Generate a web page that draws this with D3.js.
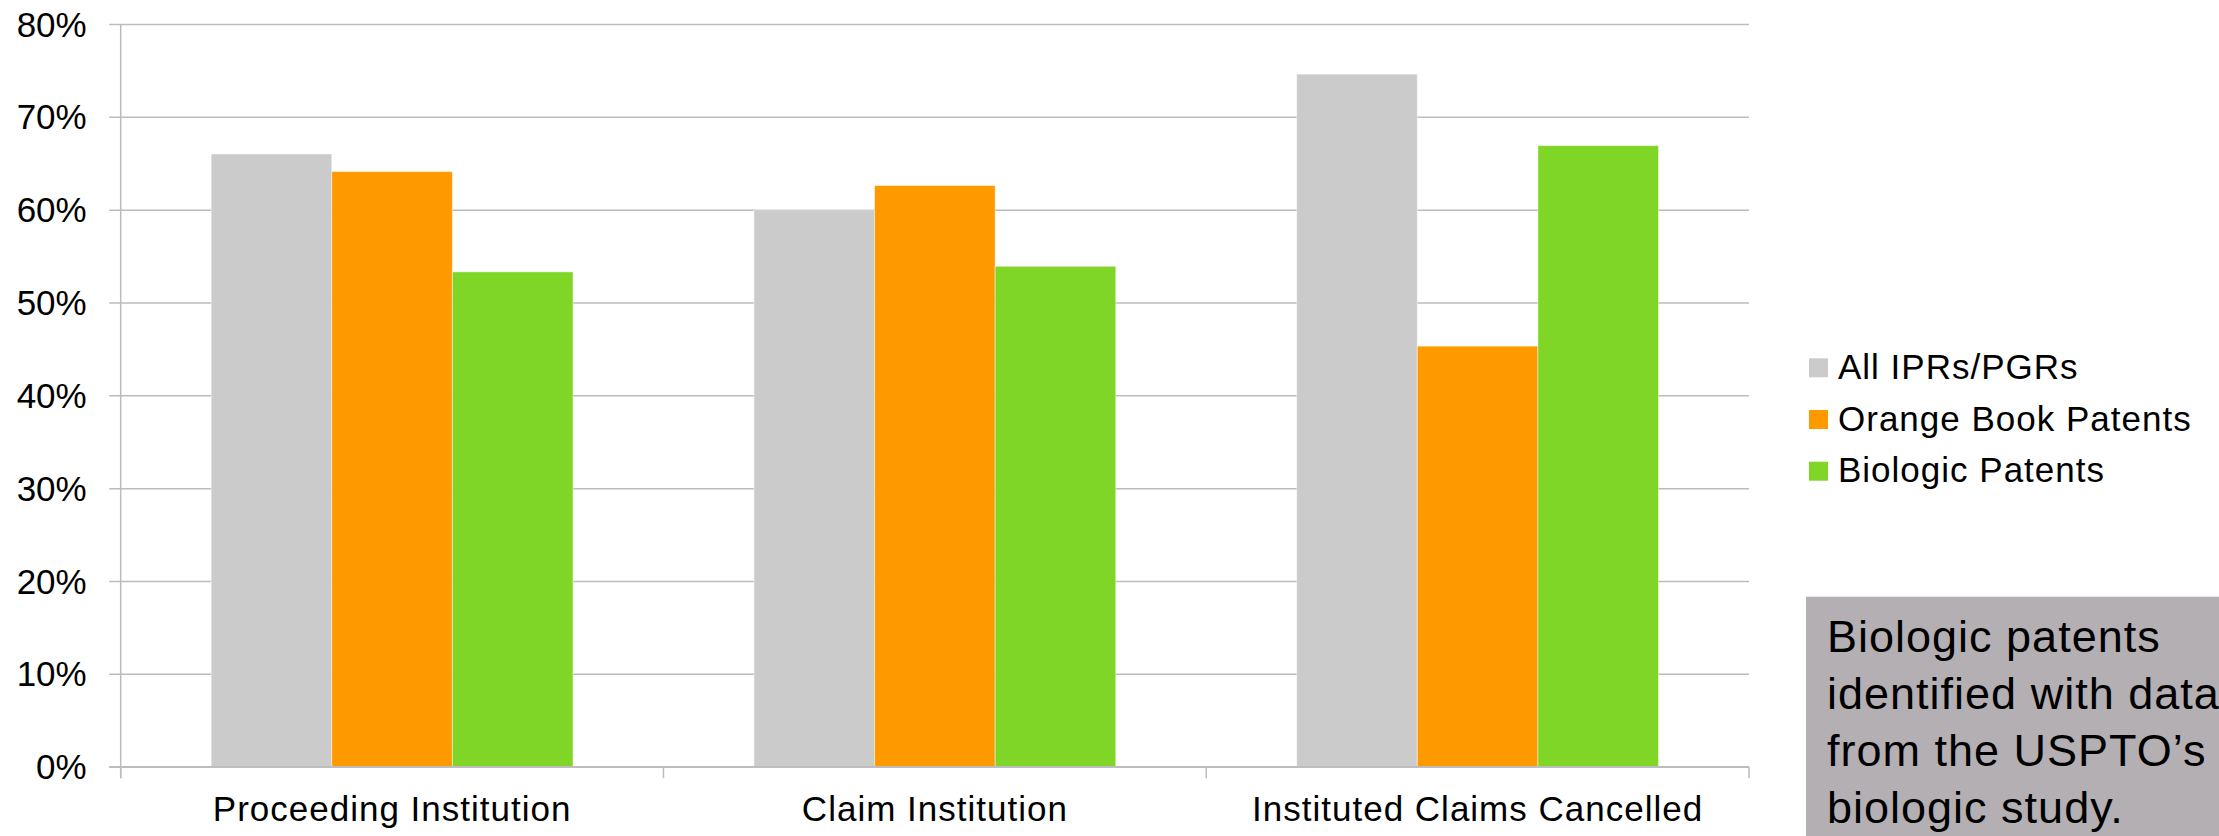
<!DOCTYPE html>
<html>
<head>
<meta charset="utf-8">
<script src="https://cdn.jsdelivr.net/npm/d3@7"></script>
<style>
  html, body { margin: 0; padding: 0; background: #fff; }
  svg { display: block; font-family: "Liberation Sans", Arial, sans-serif; }
</style>
</head>
<body>
<div id="chart"></div>
<script>
// data
var categories = ["Proceeding Institution", "Claim Institution", "Instituted Claims Cancelled"];
var seriesNames = ["All IPRs/PGRs", "Orange Book Patents", "Biologic Patents"];
var allIprs = [66.0, 60.0, 74.6];
var orangeBook = [64.1, 62.6, 45.3];
var biologic = [53.3, 53.9, 66.9];
var yTicks = [0, 10, 20, 30, 40, 50, 60, 70, 80];
var noteLines = ["Biologic patents", "identified with data", "from the USPTO\u2019s", "biologic study."];

var colors = ["#cbcbcb", "#ff9900", "#80d626"];
var seriesValues = [allIprs, orangeBook, biologic];

var W = 2219, H = 836;
var plotL = 120.7, plotR = 1749, plotT = 24, plotB = 766.7;

var svg = d3.select("#chart").append("svg")
	.attr("width", W)
	.attr("height", H);

var x0 = d3.scaleBand().domain(categories).range([plotL, plotR]).padding(0);
var bw = x0.bandwidth();
var x1 = d3.scaleBand().domain(seriesNames).range([bw * 0.1667, bw * 0.8333]).padding(0);
var y = d3.scaleLinear().domain([0, 80]).range([plotB, plotT]);

// y axis + gridlines
var yAxis = svg.append("g")
	.attr("transform", "translate(" + plotL + ",0)")
	.call(d3.axisLeft(y).tickValues(yTicks).tickFormat(function(d){ return d + "%"; })
		.tickSizeInner(-(plotR - plotL)).tickSizeOuter(0));
yAxis.select(".domain").remove();
yAxis.selectAll(".tick line")
	.attr("x1", -11.5)
	.attr("stroke", "#bcbcbc")
	.attr("stroke-width", 1.5);
yAxis.selectAll(".tick text")
	.attr("x", -34)
	.attr("dy", null)
	.attr("y", 12)
	.attr("fill", "#000")
	.attr("font-size", 35)
	.attr("font-family", "Liberation Sans, Arial, sans-serif");

// bars
var groups = svg.append("g").selectAll("g")
	.data(categories)
	.join("g")
	.attr("transform", function(d){ return "translate(" + x0(d) + ",0)"; });

groups.selectAll("rect")
	.data(function(d, i){
		return seriesNames.map(function(s, k){ return {s: s, v: seriesValues[k][i], c: colors[k]}; });
	})
	.join("rect")
	.attr("x", function(d){ return x1(d.s); })
	.attr("width", x1.bandwidth())
	.attr("y", function(d){ return y(d.v); })
	.attr("height", function(d){ return plotB - y(d.v); })
	.attr("fill", function(d){ return d.c; })
	.attr("stroke", "#fff")
	.attr("stroke-opacity", 0.45)
	.attr("stroke-width", 1);

// axis lines on top
svg.append("line")
	.attr("x1", plotL).attr("x2", plotL)
	.attr("y1", plotT).attr("y2", plotB + 11.5)
	.attr("stroke", "#bcbcbc").attr("stroke-width", 1.5);
svg.append("line")
	.attr("x1", plotL - 11.5).attr("x2", plotR)
	.attr("y1", plotB).attr("y2", plotB)
	.attr("stroke", "#bcbcbc").attr("stroke-width", 1.5);

// x axis labels
var xAxis = svg.append("g")
	.attr("transform", "translate(0," + plotB + ")")
	.call(d3.axisBottom(x0).tickSize(0).tickPadding(0));
xAxis.select(".domain").remove();
xAxis.selectAll(".tick text")
	.attr("dy", null)
	.attr("y", 54.5)
	.attr("fill", "#000")
	.attr("font-size", 35)
	.attr("letter-spacing", 1)
	.attr("font-family", "Liberation Sans, Arial, sans-serif");

// boundary ticks
svg.append("g").selectAll("line")
	.data(categories.map(function(c){ return x0(c); }).concat([plotR]))
	.join("line")
	.attr("x1", function(d){ return d; }).attr("x2", function(d){ return d; })
	.attr("y1", plotB).attr("y2", plotB + 11.5)
	.attr("stroke", "#bcbcbc").attr("stroke-width", 1.5);

// legend
var legend = svg.append("g").selectAll("g")
	.data(seriesNames)
	.join("g")
	.attr("transform", function(d, i){ return "translate(1809," + (358.3 + i * 51.7) + ")"; });
legend.append("rect")
	.attr("width", 19).attr("height", 19)
	.attr("fill", function(d, i){ return colors[i]; });
legend.append("text")
	.attr("x", 29)
	.attr("y", 20.5)
	.attr("font-size", 35)
	.attr("letter-spacing", 1)
	.attr("fill", "#000")
	.text(function(d){ return d; });

// note box
svg.append("rect")
	.attr("x", 1806).attr("y", 596.7)
	.attr("width", W - 1806).attr("height", H - 596.7)
	.attr("fill", "#b3afb3");
svg.append("g").selectAll("text")
	.data(noteLines)
	.join("text")
	.attr("x", 1827)
	.attr("y", function(d, i){ return 651.7 + i * 57.2; })
	.attr("font-size", 45)
	.attr("letter-spacing", 1)
	.attr("fill", "#000")
	.text(function(d){ return d; });
</script>
</body>
</html>
